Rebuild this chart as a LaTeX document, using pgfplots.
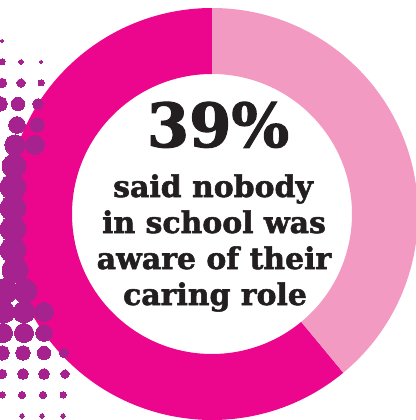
\documentclass[border=0pt]{standalone}
\usepackage{pgfplots}
\pgfplotsset{compat=1.18}
\usepackage{pgfplotstable}
\usepackage{fontspec}
\setmainfont{DejaVu Serif}[BoldFeatures={FakeBold=1.8}]
\definecolor{magentac}{HTML}{EC068D}
\definecolor{pinkc}{HTML}{F39AC2}
\definecolor{dotc}{HTML}{A6238F}
\definecolor{textc}{HTML}{231F20}

% halftone dots: x, y (image px from top), radius
\pgfplotstableread{
x y r
2 41 1.8
2 62 3
21 62 2.4
41 62 1.8
2 83 4.8
21 83 4.2
41 83 3
0 104 7.2
18 104 6.6
38 104 5.4
-2 125 9
17 125 8.4
37 125 7.2
-4 145 10.2
15 145 10.2
35 145 9.6
-6 166 12
14 166 12
-7 187 13
13 187 13
-7 208 13
13 208 13
-7 229 13
13 229 13
-7 250 13
13 250 13
-5 270 13
15 270 13
5 291 12.6
25 291 12
4 312 10.8
24 312 10.8
44 312 9.6
3 333 9.6
24 333 9.6
44 333 8.4
2 353 7.2
23 353 7.2
44 353 6.6
64 353 4.8
2 374 4.8
23 374 5.4
44 374 5.4
65 374 4.2
2 395 3
22 395 3.6
43 395 3.6
63 395 3
22 416 2.4
42 416 2.4
63 416 2.4
}\dots

\def\pctA{39}

\begin{document}
\begin{tikzpicture}
\begin{axis}[
  width=416bp, height=420bp, scale only axis,
  xmin=0, xmax=416, ymin=0, ymax=420,
  hide axis, clip=true,
]
\addplot[scatter, only marks, mark=*,
  mark options={draw=dotc, fill=dotc, line width=0pt},
  scatter/use mapped color={draw=dotc, fill=dotc},
  visualization depends on={\thisrow{r} \as \perpointmarksize},
  scatter/@pre marker code/.append style={/tikz/mark size=\perpointmarksize bp}]
  table[x=x, y expr=420-\thisrow{y}] {\dots};

\pgfmathsetmacro{\angB}{90-3.6*\pctA}
\coordinate (C) at (axis cs:212,206);
\fill[magentac] (C) ++(\angB:206bp) arc[start angle=\angB, end angle=-270, radius=206bp]
  -- ++(-90:66bp) arc[start angle=-270, end angle=\angB, radius=140bp] -- cycle;
\fill[pinkc] (C) ++(90:206bp) arc[start angle=90, end angle=\angB, radius=206bp]
  -- ++(\angB:-66bp) arc[start angle=\angB, end angle=90, radius=140bp] -- cycle;

\node[anchor=base, text=textc, font=\bfseries\fontsize{61}{61}\selectfont, inner sep=0pt]
  at (axis cs:218,273) {39\%};
\node[anchor=base, text=textc, font=\bfseries\fontsize{30}{30}\selectfont, inner sep=0pt]
  at (axis cs:213,223) {said nobody};
\node[anchor=base, text=textc, font=\bfseries\fontsize{30}{30}\selectfont, inner sep=0pt]
  at (axis cs:214,187) {in school was};
\node[anchor=base, text=textc, font=\bfseries\fontsize{30}{30}\selectfont, inner sep=0pt]
  at (axis cs:214,151) {aware of their};
\node[anchor=base, text=textc, font=\bfseries\fontsize{30}{30}\selectfont, inner sep=0pt]
  at (axis cs:215,115) {caring role};
\end{axis}
\pgfresetboundingbox
\useasboundingbox (current axis.south west) rectangle (current axis.north east);
\end{tikzpicture}
\end{document}
